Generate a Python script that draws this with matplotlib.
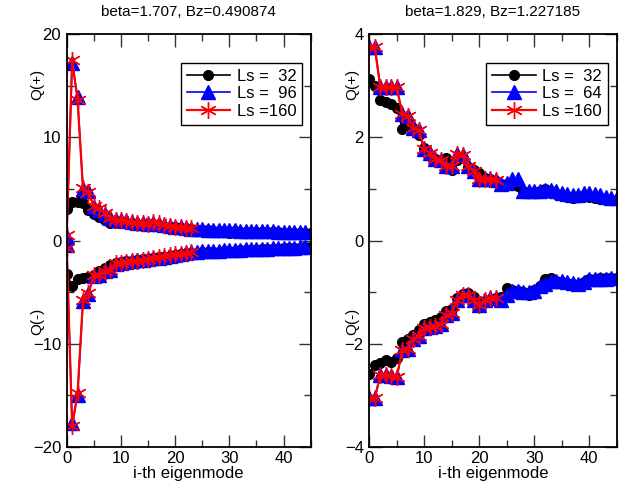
import matplotlib
matplotlib.use("Agg")
import matplotlib.pyplot as plt
from matplotlib.ticker import MultipleLocator

plt.rcParams['font.family'] = ['Liberation Sans', 'DejaVu Sans']

# ---------------- data: left panel (beta=1.707) ----------------
L_black_pos = [3.05, 3.75, 3.7, 3.65, 2.95, 2.6, 2.3, 2.0, 1.7, 1.65, 1.75, 1.7, 1.6, 1.55,
               1.5, 1.55, 1.45, 1.4, 1.35, 1.35, 1.3, 1.2, 1.15, 1.1, 1.05, 1.0, 0.98, 0.95,
               0.92, 0.9, 0.72, 0.88, 0.86, 0.85, 0.83, 0.82, 0.8, 0.8, 0.78, 0.78, 0.76,
               0.75, 0.74, 0.74, 0.73, 0.72]
L_black_neg = [-3.2, -4.45, -3.75, -3.65, -3.55, -3.3, -3.0, -2.7, -2.4, -2.2, -2.1, -2.0,
               -1.95, -1.85, -1.8, -1.75, -1.7, -1.6, -1.55, -1.5, -1.4, -1.35, -1.3, -1.25,
               -1.2, -1.15, -1.12, -1.1, -1.08, -1.05, -1.1, -1.0, -0.95, -0.92, -0.9, -0.88,
               -0.85, -0.82, -0.8, -0.78, -0.75, -0.72, -0.7, -0.68, -0.66, -0.65]
L_blue_pos = [0.3, 17.2, 13.9, 5.0, 4.8, 3.2, 3.0, 2.6, 2.2, 2.0, 1.95, 1.85, 1.75, 1.7, 1.65,
              1.6, 1.7, 1.6, 1.5, 1.4, 1.35, 1.3, 1.25, 1.15, 1.1, 1.08, 1.05, 1.05, 1.02,
              1.0, 0.98, 0.97, 0.96, 0.95, 0.93, 0.92, 0.9, 0.9, 0.88, 0.87, 0.86, 0.85,
              0.84, 0.83, 0.8]
L_blue_neg = [-0.45, -17.7, -15.0, -5.9, -5.2, -3.4, -3.3, -3.0, -2.9, -2.25, -2.15, -2.05,
              -2.0, -1.9, -1.85, -1.8, -1.7, -1.65, -1.55, -1.5, -1.4, -1.3, -1.2, -1.15,
              -1.1, -1.05, -1.02, -1.0, -0.98, -0.95, -0.93, -0.9, -0.88, -0.86, -0.84,
              -0.82, -0.8, -0.78, -0.76, -0.74, -0.72, -0.7, -0.68, -0.66, -0.62]
L_red_pos = [0.55, 17.5, 13.6, 5.1, 4.7, 3.3, 3.1, 2.7, 2.2, 2.0, 1.95, 1.85, 1.8, 1.7, 1.65,
             1.6, 1.75, 1.65, 1.5, 1.45, 1.35, 1.3, 1.25, 1.2]
L_red_neg = [-0.7, -18.0, -14.8, -5.8, -5.1, -3.35, -3.3, -3.0, -2.85, -2.2, -2.15, -2.05,
             -2.0, -1.95, -1.85, -1.8, -1.7, -1.6, -1.5, -1.45, -1.35, -1.3, -1.2, -1.15]

# ---------------- data: right panel (beta=1.829) ----------------
R_black_pos = [3.12, 3.0, 2.73, 2.68, 2.65, 2.57, 2.16, 2.21, 2.18, 2.05, 1.8, 1.63, 1.58,
               1.56, 1.6, 1.37, 1.56, 1.6, 1.43, 1.36, 1.3, 1.22, 1.2, 1.15, 1.1, 1.1, 1.12,
               1.05, 0.95, 0.92, 0.92, 0.95, 1.0, 0.95, 0.9, 0.88, 0.85, 0.82, 0.85, 0.88,
               0.85, 0.82, 0.8, 0.8, 0.78, 0.78]
R_black_neg = [-2.58, -2.41, -2.38, -2.32, -2.35, -2.28, -1.96, -1.9, -1.83, -1.73, -1.62,
               -1.57, -1.54, -1.48, -1.37, -1.32, -1.12, -1.03, -1.02, -1.1, -1.18, -1.2,
               -1.15, -1.12, -1.1, -0.92, -0.95, -0.98, -1.0, -1.05, -0.95, -0.88, -0.75,
               -0.73, -0.78, -0.8, -0.82, -0.84, -0.86, -0.8, -0.75, -0.74, -0.73, -0.72,
               -0.72, -0.72]
R_blue_pos = [3.75, 3.75, 2.97, 2.97, 2.97, 2.97, 2.45, 2.42, 2.18, 2.15, 1.78, 1.7, 1.58,
              1.55, 1.45, 1.45, 1.68, 1.65, 1.45, 1.35, 1.2, 1.2, 1.2, 1.18, 1.1, 1.12, 1.2,
              1.2, 0.95, 0.95, 0.95, 0.95, 0.98, 0.98, 0.95, 0.92, 0.9, 0.88, 0.88, 0.92,
              0.92, 0.9, 0.88, 0.85, 0.83, 0.82]
R_blue_neg = [-3.06, -3.06, -2.6, -2.6, -2.62, -2.65, -2.12, -2.1, -1.9, -1.85, -1.7, -1.68,
              -1.66, -1.62, -1.44, -1.4, -1.15, -1.05, -1.05, -1.15, -1.25, -1.15, -1.12,
              -1.12, -1.15, -1.05, -0.98, -0.98, -1.0, -1.0, -0.98, -0.88, -0.85, -0.78,
              -0.78, -0.78, -0.8, -0.82, -0.85, -0.8, -0.75, -0.75, -0.75, -0.74, -0.72,
              -0.73]
R_red_pos = [3.75, 3.75, 2.97, 2.97, 2.97, 2.97, 2.45, 2.42, 2.18, 2.15, 1.78, 1.7, 1.58,
             1.55, 1.45, 1.45, 1.68, 1.65, 1.45, 1.35, 1.2, 1.2, 1.2, 1.18]
R_red_neg = [-3.06, -3.06, -2.6, -2.6, -2.62, -2.65, -2.12, -2.1, -1.9, -1.85, -1.7, -1.68,
             -1.66, -1.62, -1.44, -1.4, -1.15, -1.05, -1.05, -1.15, -1.25, -1.15, -1.12,
             -1.12]

titles = ["beta=1.707, Bz=0.490874", "beta=1.829, Bz=1.227185"]
left_labels = ["Ls =  32", "Ls =  96", "Ls =160"]
right_labels = ["Ls =  32", "Ls =  64", "Ls =160"]
xlabel = "i-th eigenmode"

W, H = 623, 488
fig = plt.figure(figsize=(W / 100, H / 100), dpi=100)

def px_axes(x0, y0, x1, y1):
    return fig.add_axes([x0 / W, 1 - y1 / H, (x1 - x0) / W, (y1 - y0) / H])

axL = px_axes(66.7, 34, 310.7, 447)
axR = px_axes(369.3, 34, 616.5, 447)

star = (6, 2, 0)

def draw(ax, series, labels):
    styles = [dict(color='black', marker='o', ms=7, lw=1.2, mec='black', mfc='black'),
              dict(color='blue', marker='^', ms=10, lw=1.2, mec='blue', mfc='blue'),
              dict(color='red', marker=star, ms=12, lw=1.6, mec='red', mfc='red', mew=1.0)]
    for (pos, neg), st, lab in zip(series, styles, labels):
        ax.plot(list(range(len(pos))), pos, label=lab, **st)
        ax.plot(list(range(len(neg))), neg, **st)

draw(axL, [(L_black_pos, L_black_neg), (L_blue_pos, L_blue_neg), (L_red_pos, L_red_neg)],
     left_labels)
draw(axR, [(R_black_pos, R_black_neg), (R_blue_pos, R_blue_neg), (R_red_pos, R_red_neg)],
     right_labels)

axL.set_xlim(0, 45)
axL.set_ylim(-20, 20)
axL.yaxis.set_major_locator(MultipleLocator(10))
axL.yaxis.set_minor_locator(MultipleLocator(5))
axR.set_xlim(0, 45)
axR.set_ylim(-4, 4)
axR.yaxis.set_major_locator(MultipleLocator(2))
axR.yaxis.set_minor_locator(MultipleLocator(1))

for ax, t in zip([axL, axR], titles):
    ax.xaxis.set_major_locator(MultipleLocator(10))
    ax.xaxis.set_minor_locator(MultipleLocator(5))
    ax.tick_params(which='both', direction='in', top=True, right=True, labelsize=12,
                   width=1.0, color='#333333')
    ax.tick_params(which='major', length=9)
    ax.tick_params(which='minor', length=5)
    ax.tick_params(axis='x', pad=3)
    ax.tick_params(axis='y', pad=4)
    for s in ax.spines.values():
        s.set_linewidth(1.3)
    ax.set_title(t, fontsize=11, pad=13)
    ax.set_xlabel(xlabel, fontsize=12, labelpad=0)
    qx = -0.12 if ax is axL else -0.07
    ax.text(qx, 0.878, "Q(+)", rotation=90, transform=ax.transAxes,
            ha='center', va='center', fontsize=11)
    ax.text(qx, 0.303, "Q(-)", rotation=90, transform=ax.transAxes,
            ha='center', va='center', fontsize=11)
    leg = ax.legend(loc='upper right', bbox_to_anchor=(0.965, 0.93), fontsize=12,
                    frameon=True, fancybox=False, framealpha=1, edgecolor='black',
                    handlelength=2.6, handletextpad=0.4, borderpad=0.35, labelspacing=0.15,
                    borderaxespad=0)
    leg.get_frame().set_linewidth(1.0)

fig.savefig("out.png", dpi=100)
